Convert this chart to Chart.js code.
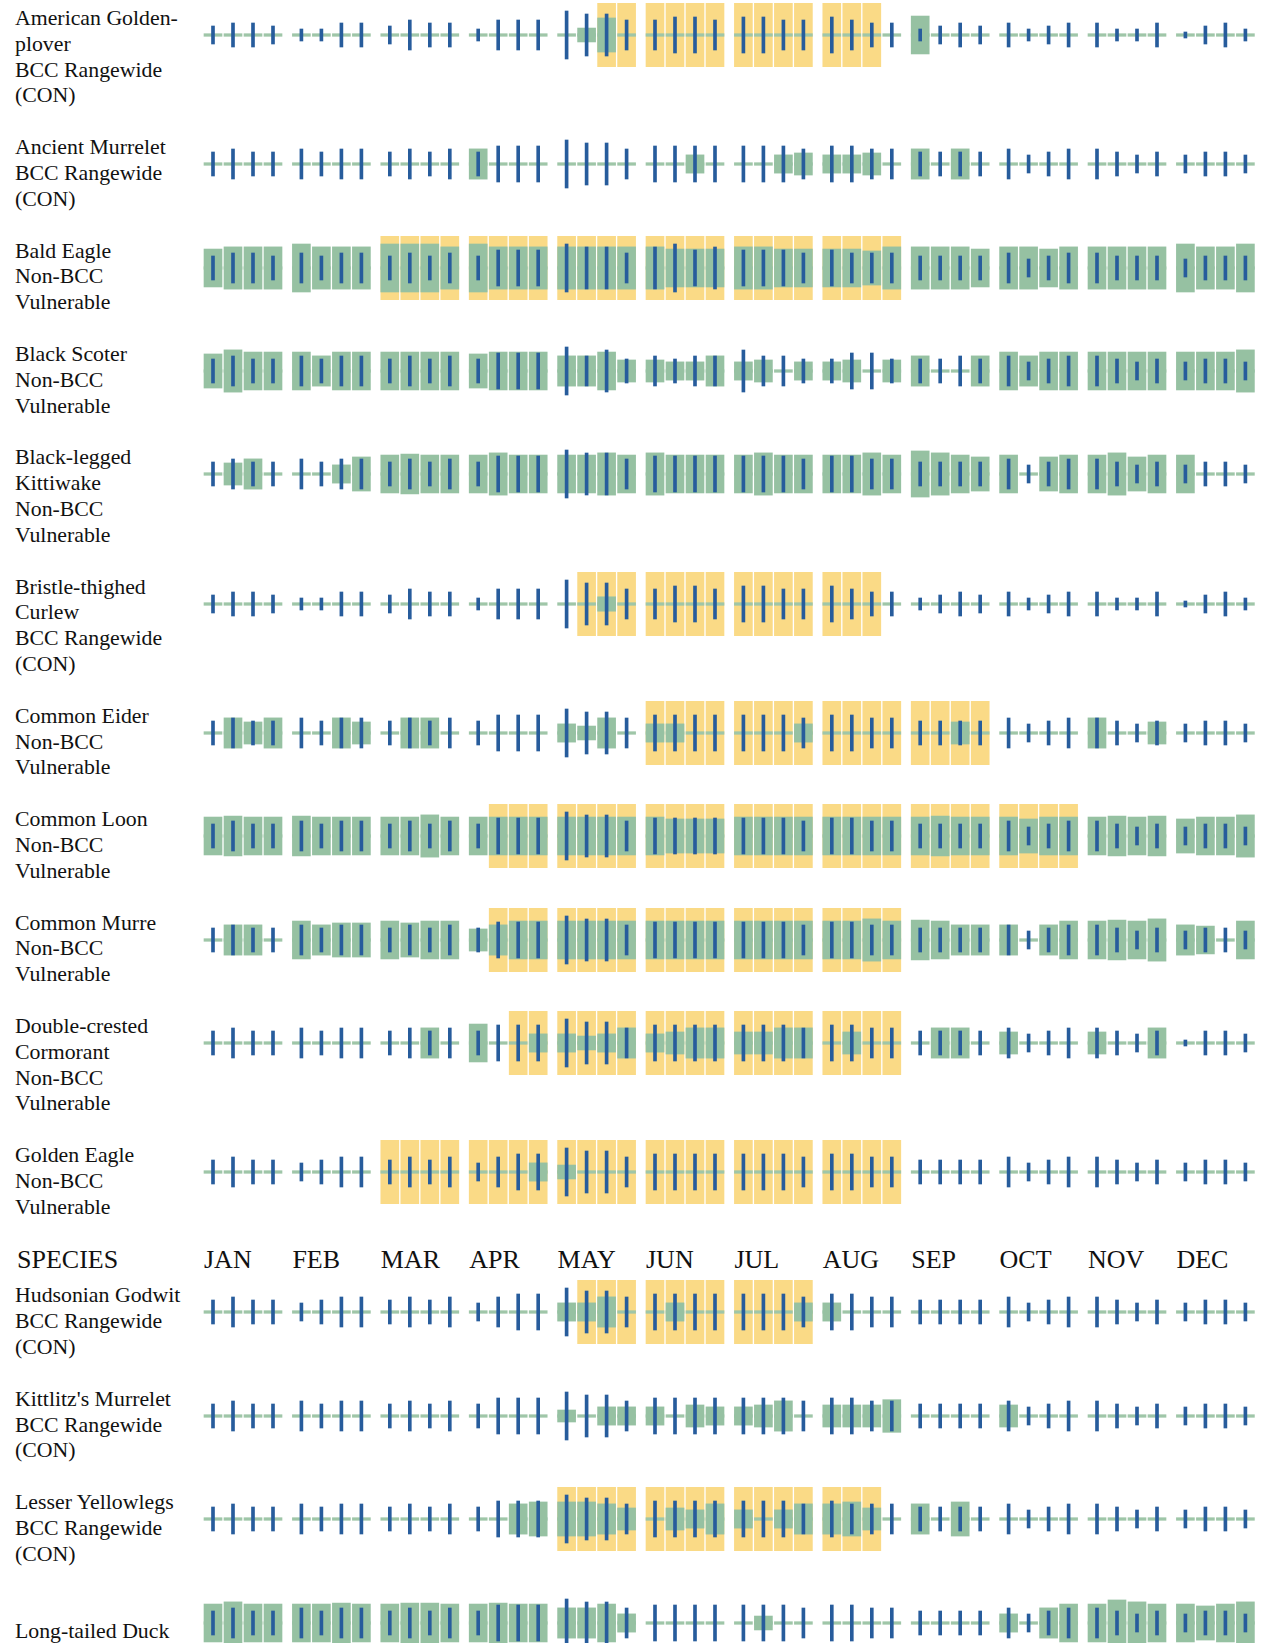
<!DOCTYPE html>
<html>
<head>
<meta charset="utf-8">
<script src="https://cdn.jsdelivr.net/npm/chart.js@4.4.1/dist/chart.umd.min.js"></script>
<style>
body{margin:0;background:#fff;font-family:"Liberation Serif","Times New Roman",serif;color:#111}
#sheet{padding-top:3px;width:1267px;height:1643px;overflow:hidden}
.row{display:flex;align-items:flex-start;margin-bottom:26px}
.label{width:180px;padding-left:15px;padding-top:3px;margin-bottom:-3px;font-size:21.8px;line-height:25.8px}
.plot{width:1067px;height:64px}
.head{position:relative;height:30px;margin-top:2px;margin-bottom:7px;font-size:26px;line-height:30px}
.head span{position:absolute;top:2px}
</style>
</head>
<body>
<div id="sheet"></div>
<script>
const months = ["JAN","FEB","MAR","APR","MAY","JUN","JUL","AUG","SEP","OCT","NOV","DEC"];

const species = ["American Golden-plover","Ancient Murrelet","Bald Eagle","Black Scoter","Black-legged Kittiwake",
"Bristle-thighed Curlew","Common Eider","Common Loon","Common Murre","Double-crested Cormorant","Golden Eagle",
"Hudsonian Godwit","Kittlitz's Murrelet","Lesser Yellowlegs","Long-tailed Duck"];

const status = ["BCC Rangewide (CON)","BCC Rangewide (CON)","Non-BCC Vulnerable","Non-BCC Vulnerable","Non-BCC Vulnerable",
"BCC Rangewide (CON)","Non-BCC Vulnerable","Non-BCC Vulnerable","Non-BCC Vulnerable","Non-BCC Vulnerable","Non-BCC Vulnerable",
"BCC Rangewide (CON)","BCC Rangewide (CON)","BCC Rangewide (CON)","Non-BCC Vulnerable"];

// first and last week (0-47) of the breeding season, null = none
const breedingSeason = [[18,30],null,[8,31],null,null,[17,30],[20,35],[13,39],[13,31],[14,31],[8,31],[17,27],null,[16,30],null];

// probability of presence, 0-10 per week
const presence = [
[0,0,0,0, 0,0,0,0, 0,0,0,0, 0,0,0,0, 0,2.9,7.1,0, 0,0,0,0, 0,0,0,0, 0,0,0,0, 7.9,0,0,0, 0,0,0,0, 0,0,0,0, 0,0,0,0],
[0,0,0,0, 0,0,0,0, 0,0,0,0, 6.3,0,0,0, 0,0,0,0, 0,0,3.8,0, 0,0,3.8,4.6, 3.8,3.8,4.6,0, 6.3,0,6.3,0, 0,0,0,0, 0,0,0,0, 0,0,0,0],
[7.9,8.8,8.8,8.8, 10,8.8,8.8,8.8, 10,10,10,8.8, 10,8.8,8.8,8.8, 8.8,8.8,8.8,8.8, 8.8,7.9,7.9,7.9, 8.8,8.8,7.9,7.9, 7.9,7.9,7.1,8.8, 8.8,8.8,8.8,7.9, 8.8,8.8,7.9,8.8, 8.8,8.8,8.8,8.8, 10,8.8,8.8,10],
[7.1,8.8,7.9,7.9, 7.9,6.3,7.9,7.9, 7.9,7.9,7.9,7.9, 7.1,7.9,7.9,7.9, 6.3,6.3,7.9,4.6, 4.6,3.8,3.8,6.3, 3.8,4.6,0,3.8, 3.8,4.6,0,4.6, 6.3,0,0,6.3, 7.9,6.3,7.9,7.9, 7.9,7.9,7.9,7.9, 7.9,7.9,7.9,8.8],
[0,4.6,6.3,0, 0,0,3.8,7.1, 7.9,8.3,7.9,7.9, 7.9,8.8,7.9,7.9, 7.9,7.9,8.8,7.9, 8.8,7.9,7.9,7.9, 7.9,8.8,7.9,7.9, 7.9,7.9,8.8,7.9, 9.6,8.8,7.9,7.1, 7.9,0,7.1,7.9, 7.9,8.8,7.1,7.9, 7.9,0,0,0],
[0,0,0,0, 0,0,0,0, 0,0,0,0, 0,0,0,0, 0,0,3,0, 0,0,0,0, 0,0,0,0, 0,0,0,0, 0,0,0,0, 0,0,0,0, 0,0,0,0, 0,0,0,0],
[0,6.3,4.6,6.3, 0,0,6.3,4.6, 0,6.3,6.3,0, 0,0,0,0, 3.8,2.9,6.3,0, 3.8,3.8,0,0, 0,0,0,3.8, 0,0,0,0, 0,0,4.6,0, 0,0,0,0, 6.3,0,0,4.6, 0,0,0,0],
[7.9,8.3,7.9,7.9, 8.3,7.9,7.9,7.9, 7.9,7.9,8.8,7.9, 7.9,7.9,7.9,7.9, 7.9,7.9,7.9,7.9, 7.9,7.1,7.1,7.1, 7.9,7.9,7.9,7.9, 7.9,7.9,7.9,7.9, 7.9,8.3,7.9,7.9, 7.9,7.1,7.9,7.9, 7.9,8.3,7.9,8.3, 7.1,7.9,7.9,8.8],
[0,6.3,6.3,0, 7.9,6.3,7.1,7.1, 7.9,7.1,7.9,7.9, 4.6,6.3,7.9,7.9, 7.9,7.9,7.9,7.9, 7.9,7.9,7.9,7.9, 7.9,7.9,7.9,7.9, 7.9,7.9,8.8,7.9, 8.3,7.9,6.3,6.3, 6.3,0,6.3,7.9, 7.9,8.3,7.9,8.8, 6.3,5.8,0,7.9],
[0,0,0,0, 0,0,0,0, 0,0,6.3,0, 7.9,0,0,3.8, 3.8,2.9,3.8,6.3, 3.8,4.6,6.3,6.3, 4.6,4.6,6.3,6.3, 0,4.6,0,0, 0,6.3,6.3,0, 4.6,0,0,0, 4.6,0,0,6.3, 0,0,0,0],
[0,0,0,0, 0,0,0,0, 0,0,0,0, 0,0,0,3.8, 2.9,0,0,0, 0,0,0,0, 0,0,0,0, 0,0,0,0, 0,0,0,0, 0,0,0,0, 0,0,0,0, 0,0,0,0],
[0,0,0,0, 0,0,0,0, 0,0,0,0, 0,0,0,0, 3.8,3.8,6.3,0, 0,3.8,0,0, 0,0,0,3.8, 3.8,0,0,0, 0,0,0,0, 0,0,0,0, 0,0,0,0, 0,0,0,0],
[0,0,0,0, 0,0,0,0, 0,0,0,0, 0,0,0,0, 2.5,0,3.8,3.8, 3.8,0,4.6,3.8, 3.8,4.6,6.3,0, 4.6,4.6,4.6,6.8, 0,0,0,0, 4.6,0,0,0, 0,0,0,0, 0,0,0,0],
[0,0,0,0, 0,0,0,0, 0,0,0,0, 0,0,6.3,7.1, 7.1,7.1,6.3,4.6, 0,4.6,3.8,6.3, 3.8,0,3.8,6.3, 6.3,7.1,4.6,0, 6.3,0,7.1,0, 0,0,0,0, 0,0,0,0, 0,0,0,0],
[7.9,8.8,7.9,7.9, 7.9,7.9,8.3,7.9, 7.9,8.3,8.3,7.9, 7.9,8.3,7.9,7.9, 6.3,6.3,7.9,3.8, 0,0,0,0, 0,2.9,0,0, 0,0,0,0, 0,0,0,0, 3.8,0,6.3,7.9, 7.9,9.6,8.8,7.9, 7.9,7.1,7.9,8.8]
];

// survey effort, 0-8 per week
const effort = [
[3,4,4,3, 2,2,4,4, 3,5,4,4, 2,5,5,5, 8,7,7,5, 5,6,6,5, 6,6,5,5, 6,5,4,4, 2,3,4,3, 4,2,3,4, 4,2,2,4, 1,3,4,2],
[4,5,4,4, 5,4,5,5, 4,5,4,5, 4,6,6,6, 8,7,7,5, 6,6,6,6, 6,6,6,5, 6,6,5,5, 4,4,4,4, 5,3,4,5, 5,4,3,4, 3,4,4,3],
[4,5,5,4, 5,4,5,5, 4,5,4,5, 4,6,6,6, 8,7,7,5, 7,8,6,7, 6,6,6,5, 6,5,5,5, 4,4,4,4, 5,3,4,5, 5,4,4,4, 3,4,4,4],
[4,5,4,4, 5,4,5,5, 4,5,4,5, 4,6,6,6, 8,5,7,4, 5,4,5,5, 7,5,5,4, 4,6,6,4, 4,4,5,4, 5,3,4,5, 5,4,3,4, 3,4,4,3],
[4,5,4,4, 5,4,5,5, 4,5,4,5, 4,6,6,6, 8,7,7,5, 6,6,6,6, 6,6,6,5, 6,6,5,5, 4,4,4,4, 5,3,4,5, 5,4,3,4, 3,4,4,3],
[3,4,4,3, 2,2,4,4, 3,5,4,4, 2,5,5,5, 8,7,7,5, 5,6,6,5, 6,6,5,5, 6,5,4,4, 2,3,4,3, 4,2,3,4, 4,2,2,4, 1,3,4,2],
[4,5,4,4, 5,4,5,5, 4,5,4,5, 4,6,6,6, 8,7,7,5, 6,6,6,6, 6,6,6,5, 6,6,5,5, 4,4,4,4, 5,3,4,5, 5,4,3,4, 3,4,4,3],
[4,5,4,4, 5,4,5,5, 4,5,4,5, 4,6,6,6, 8,7,7,5, 6,6,6,6, 6,6,6,5, 6,6,5,5, 4,4,4,4, 5,3,4,5, 5,4,3,4, 3,4,4,3],
[4,5,4,4, 5,4,5,5, 4,5,4,5, 4,6,6,6, 8,7,7,5, 6,6,6,6, 6,6,6,5, 6,6,5,5, 4,4,4,4, 5,3,4,5, 5,4,3,4, 3,4,4,3],
[4,5,4,4, 5,4,5,5, 4,5,4,5, 4,6,6,6, 8,7,7,5, 6,6,6,6, 6,6,6,5, 6,6,5,5, 4,4,4,4, 5,3,4,5, 5,4,3,4, 1,4,4,3],
[4,5,4,4, 3,4,5,5, 4,5,4,5, 3,5,6,6, 8,7,7,5, 6,6,6,6, 6,6,6,5, 6,6,5,5, 4,4,4,4, 5,3,4,5, 5,4,3,4, 3,4,4,3],
[4,5,4,4, 3,4,5,5, 4,5,4,5, 3,5,6,6, 8,7,7,5, 6,6,6,6, 6,6,6,5, 6,6,5,5, 4,4,4,4, 5,3,4,5, 5,4,3,4, 3,4,4,3],
[4,5,4,4, 5,4,5,5, 4,5,4,5, 4,6,6,6, 8,7,7,5, 6,6,6,6, 6,6,6,5, 6,6,5,5, 4,4,4,4, 5,3,4,5, 5,4,3,4, 3,4,4,3],
[4,5,4,4, 5,4,5,5, 4,5,4,5, 4,6,6,6, 8,7,7,5, 6,6,6,6, 6,6,6,5, 6,5,5,5, 4,4,4,4, 5,3,4,5, 5,4,3,4, 3,4,4,3],
[4,5,4,4, 5,4,5,5, 4,5,4,5, 4,6,6,6, 8,7,7,5, 6,6,6,6, 6,6,6,5, 6,6,5,5, 4,4,4,4, 5,3,4,5, 5,4,3,4, 3,4,4,3]
];

const headerAfter = 10; // month header sits under Golden Eagle

// layout
const monthStep = 4.42;   // week slots per month incl. gap
const xMin = -0.9, xMax = 52.45;
const plotLeft = 195, plotWidth = 1067;
const half = 32;          // half height of a row plot
const presUnit = 2.4;     // half height per presence point
const effUnit = 3;        // half height per effort point

const YELLOW = "#fada86", GREEN = "#96c1a2", LINE = "#9fc6a8", BLUE = "#275c9c";

function weekX(i){ return Math.floor(i/4)*monthStep + i%4; }

const sheet = document.getElementById("sheet");

function addHeader(){
let h = document.createElement("div");
h.className = "head";
let s = document.createElement("span");
s.style.left = "17px";
s.textContent = "SPECIES";
h.appendChild(s);
months.forEach(function(m,k){
let sp = document.createElement("span");
let left = plotLeft + (k*monthStep - 0.45 - xMin)*plotWidth/(xMax-xMin);
sp.style.left = left + "px";
sp.textContent = m;
h.appendChild(sp);
});
sheet.appendChild(h);
}

species.forEach(function(name,r){

let row = document.createElement("div");
row.className = "row";

let lab = document.createElement("div");
lab.className = "label";
lab.innerHTML = name + "<br>" + status[r];
if(r===species.length-1) lab.style.paddingTop = "28.8px";
row.appendChild(lab);

let box = document.createElement("div");
box.className = "plot";
let cv = document.createElement("canvas");
cv.width = plotWidth; cv.height = 2*half;
box.appendChild(cv);
row.appendChild(box);
sheet.appendChild(row);

let season = [], base = [], pres = [], eff = [];
for(let i=0;i<48;i++){
let x = weekX(i);
let b = breedingSeason[r];
if(b && i>=b[0] && i<=b[1]) season.push({x:x, y:[-half, half]});
base.push({x:x, y:[-1.3, 1.3]});
if(presence[r][i]>0) pres.push({x:x, y:[-presence[r][i]*presUnit, presence[r][i]*presUnit]});
if(effort[r][i]>0) eff.push({x:x, y:[-effort[r][i]*effUnit, effort[r][i]*effUnit]});
}

new Chart(cv,{
type:"bar",
data:{datasets:[
{label:"breeding", data:season, backgroundColor:YELLOW, barThickness:18, order:4},
{label:"no data", data:base, backgroundColor:LINE, barThickness:18, order:3},
{label:"presence", data:pres, backgroundColor:GREEN, barThickness:18, order:2},
{label:"effort", data:eff, backgroundColor:BLUE, barThickness:3, order:1}
]},
options:{
responsive:false,
animation:false,
events:[],
layout:{padding:0},
datasets:{bar:{grouped:false, borderWidth:0, borderSkipped:false}},
plugins:{legend:{display:false}, tooltip:{enabled:false}},
scales:{
x:{type:"linear", min:xMin, max:xMax, display:false, offset:false},
y:{min:-half, max:half, display:false}
}
}
});

if(r===headerAfter) addHeader();
});
</script>
</body>
</html>
